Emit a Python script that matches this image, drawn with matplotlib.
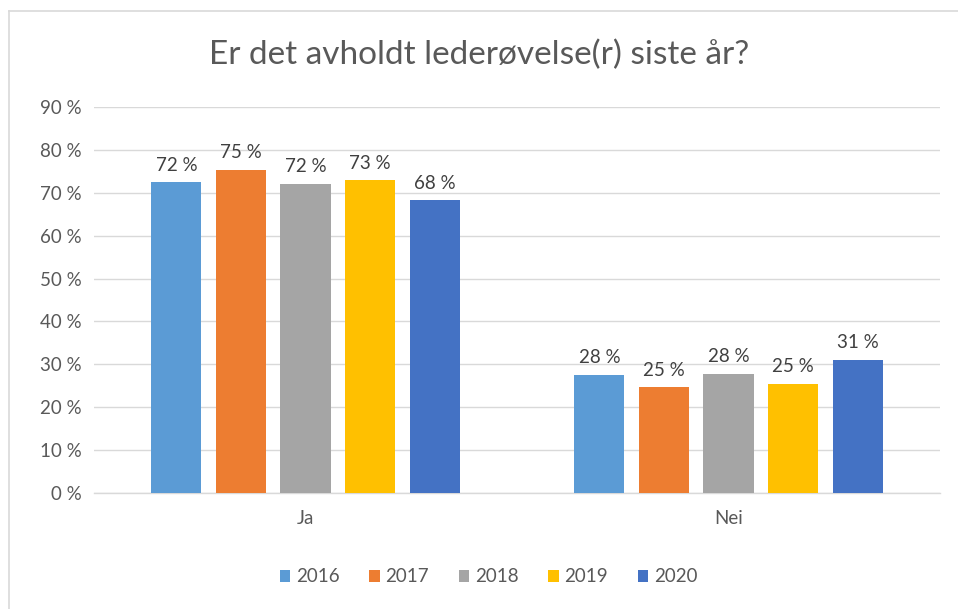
import numpy as np
import matplotlib.pyplot as plt

plt.rcParams['font.family'] = ['Lato', 'DejaVu Sans']

categories = ['Ja', 'Nei']
years = ['2016', '2017', '2018', '2019', '2020']
values = {
    '2016': [72.4, 27.6],
    '2017': [75.3, 24.6],
    '2018': [72.1, 27.8],
    '2019': [72.9, 25.4],
    '2020': [68.2, 31.0],
}
colors = ['#5B9BD5', '#ED7D31', '#A5A5A5', '#FFC000', '#4472C4']
title = 'Er det avholdt lederøvelse(r) siste år?'

W, H = 958, 609
fig = plt.figure(figsize=(W / 100, H / 100), dpi=100)
ax = fig.add_axes([94 / W, 1 - 493 / H, (940 - 94) / W, (493 - 107) / H])

x = np.arange(len(categories))
step = 0.1527
width = 0.119
for i, (yr, col) in enumerate(zip(years, colors)):
    pos = x + (i - 2) * step
    vals = values[yr]
    ax.bar(pos, vals, width=width, color=col, zorder=3, label=yr)
    for p, v in zip(pos, vals):
        ax.text(p, v + 2.0, f'{v:.0f} %', ha='center', va='bottom',
                fontsize=13.5, color='#404040')

ax.set_xlim(-0.5, 1.5)
ax.set_ylim(0, 90)
ax.set_yticks(np.arange(0, 91, 10))
ax.set_yticklabels([f'{t} %' for t in range(0, 91, 10)])
ax.set_xticks(x)
ax.set_xticklabels(categories)
ax.tick_params(axis='both', length=0, labelsize=13.5, labelcolor='#595959')
ax.tick_params(axis='y', pad=9)
ax.tick_params(axis='x', pad=12)
ax.grid(axis='y', color='#D9D9D9', linewidth=1, zorder=0)
for s in ['top', 'right', 'left']:
    ax.spines[s].set_visible(False)
ax.spines['bottom'].set_color('#D9D9D9')
ax.spines['bottom'].set_linewidth(1)

fig.text(0.5, 1 - 55 / H, title, ha='center', va='center',
         fontsize=24, color='#595959')

fig.legend(loc='center', bbox_to_anchor=(0.51, 1 - 577 / H), ncol=5,
           frameon=False, fontsize=13.5, handlelength=0.55, handleheight=0.55,
           handletextpad=0.3, columnspacing=1.6, labelcolor='#595959')

# chart border (cropped on right and bottom)
fig.add_artist(plt.Line2D([9 / W, 9 / W], [0, 1 - 11 / H], color='#D9D9D9',
                          linewidth=1.2, transform=fig.transFigure))
fig.add_artist(plt.Line2D([9 / W, 1], [1 - 11 / H, 1 - 11 / H], color='#D9D9D9',
                          linewidth=1.2, transform=fig.transFigure))

fig.savefig('out.png', dpi=100)
